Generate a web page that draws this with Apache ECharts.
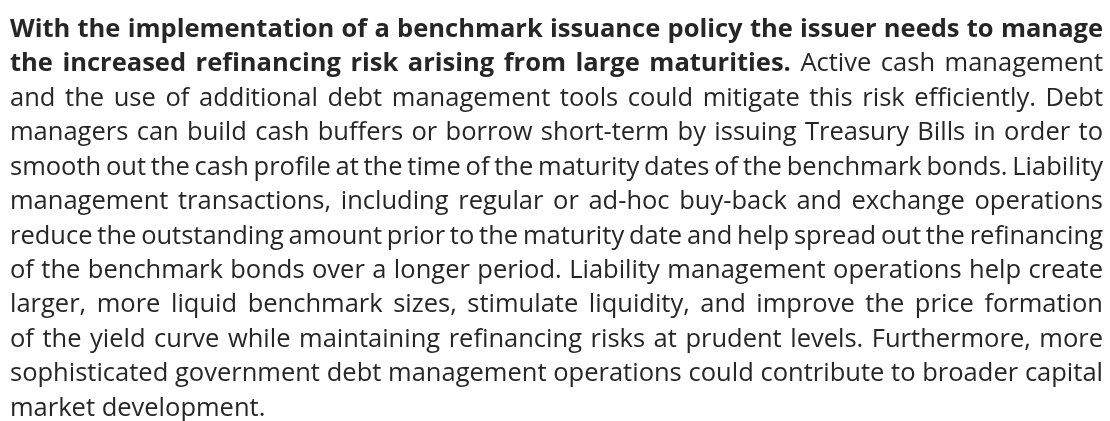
<!DOCTYPE html>
<html lang="en" style="height: 100%">

<head>
  <meta charset="utf-8" />
</head>

<body style="height: 100%; margin: 0; background: #ffffff">
  <div id="container" style="width: 1110px; height: 421px"></div>

  <script type="text/javascript" src="https://fastly.jsdelivr.net/npm/echarts@6.0.0/dist/echarts.min.js"></script>

  <script type="text/javascript">
    // paragraph text, one entry per printed line
    var paragraphLines = [
      "With the implementation of a benchmark issuance policy the issuer needs to manage",
      "the increased refinancing risk arising from large maturities. Active cash management",
      "and the use of additional debt management tools could mitigate this risk efficiently. Debt",
      "managers can build cash buffers or borrow short-term by issuing Treasury Bills in order to",
      "smooth out the cash profile at the time of the maturity dates of the benchmark bonds. Liability",
      "management transactions, including regular or ad-hoc buy-back and exchange operations",
      "reduce the outstanding amount prior to the maturity date and help spread out the refinancing",
      "of the benchmark bonds over a longer period. Liability management operations help create",
      "larger, more liquid benchmark sizes, stimulate liquidity, and improve the price formation",
      "of the yield curve while maintaining refinancing risks at prudent levels. Furthermore, more",
      "sophisticated government debt management operations could contribute to broader capital",
      "market development."
    ];
    // how many leading words of each line are set in bold
    var boldWordCounts = [13, 8, 0, 0, 0, 0, 0, 0, 0, 0, 0, 0];

    var dom = document.getElementById("container");
    var myChart = echarts.init(dom, null, { renderer: "canvas" });

    var fontSize = 25.5;
    var family = "'Open Sans', 'Noto Sans', sans-serif";
    var regularFont = "400 " + fontSize + "px " + family;
    var boldFont = "700 " + fontSize + "px " + family;
    var textColor = "#262626";
    var left = 10;
    var right = 1103;
    var firstBaseline = 37;
    var lineGap = 34.45;

    var ctx = document.createElement("canvas").getContext("2d");
    function measure(word, font) {
      ctx.font = font;
      return ctx.measureText(word).width;
    }

    var elements = [];
    paragraphLines.forEach(function (line, li) {
      var words = line.split(" ");
      var fonts = words.map(function (w, wi) {
        return wi < boldWordCounts[li] ? boldFont : regularFont;
      });
      var widths = words.map(function (w, wi) { return measure(w, fonts[wi]); });
      var total = widths.reduce(function (a, b) { return a + b; }, 0);
      var isLast = li === paragraphLines.length - 1;
      var gap = isLast || words.length < 2
        ? measure(" ", regularFont)
        : (right - left - total) / (words.length - 1);
      var x = left;
      var baseline = firstBaseline + li * lineGap;
      words.forEach(function (w, wi) {
        elements.push({
          type: "text",
          x: x,
          // box bottom sits a descent below the baseline
          y: baseline + fontSize * 0.22,
          silent: true,
          style: {
            text: w,
            font: fonts[wi],
            fill: textColor,
            align: "left",
            verticalAlign: "bottom",
            lineHeight: fontSize * 1.02
          }
        });
        x += widths[wi] + gap;
      });
    });

    var option = {
      animation: false,
      graphic: { elements: elements }
    };

    myChart.setOption(option);
    window.addEventListener("resize", myChart.resize);
  </script>
</body>

</html>
